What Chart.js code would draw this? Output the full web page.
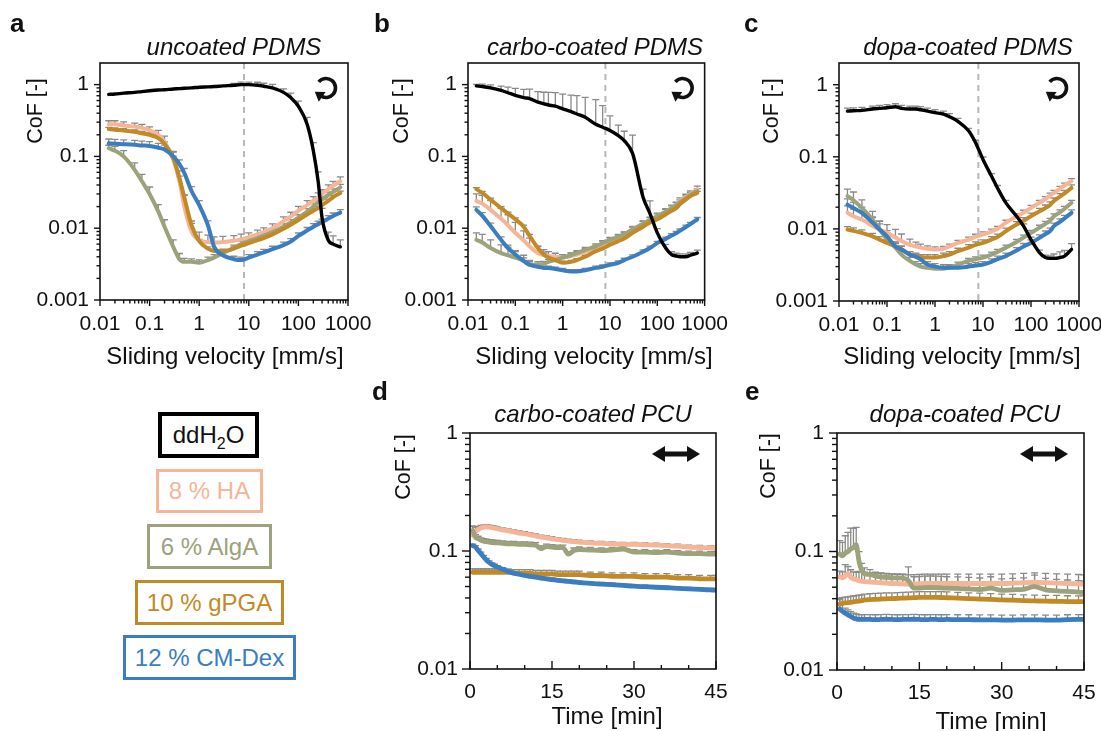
<!DOCTYPE html>
<html><head><meta charset="utf-8">
<script src="https://cdn.jsdelivr.net/npm/chart.js@4.4.0/dist/chart.umd.min.js"></script>
<style>
html,body{margin:0;padding:0;background:#fff;width:1101px;height:731px;overflow:hidden;position:relative;font-family:'Liberation Sans',Arial,sans-serif;color:#111;}
canvas{position:absolute;}
.t{position:absolute;white-space:nowrap;transform:translate(-50%,-50%);line-height:1;}
.ttl{font-style:italic;font-size:24px;}
.ax{font-size:24px;}
.yl{font-size:21.5px;transform:translate(-50%,-50%) rotate(-90deg);}
.let{position:absolute;font-weight:bold;font-size:26px;line-height:1;}
.lg{position:absolute;box-sizing:border-box;display:flex;align-items:center;justify-content:center;font-size:24px;line-height:1;}
.lg .sb{font-size:16px;position:relative;top:6px;}
</style></head><body>
<canvas id="ca"></canvas><canvas id="cb"></canvas><canvas id="cc"></canvas><canvas id="cd"></canvas><canvas id="ce"></canvas>

<div class="let" style="left:10px;top:10px">a</div>
<div class="let" style="left:374px;top:10px">b</div>
<div class="let" style="left:744px;top:10px">c</div>
<div class="let" style="left:372px;top:378px">d</div>
<div class="let" style="left:745px;top:378px">e</div>

<div class="t ttl" style="left:234px;top:47px">uncoated PDMS</div>
<div class="t ttl" style="left:595px;top:47px">carbo-coated PDMS</div>
<div class="t ttl" style="left:968px;top:47px">dopa-coated PDMS</div>
<div class="t ttl" style="left:593px;top:414px">carbo-coated PCU</div>
<div class="t ttl" style="left:965px;top:414px">dopa-coated PCU</div>

<div class="t yl" style="left:36px;top:111px">CoF [-]</div>
<div class="t yl" style="left:402px;top:111px">CoF [-]</div>
<div class="t yl" style="left:772px;top:111px">CoF [-]</div>
<div class="t yl" style="left:404px;top:467px">CoF [-]</div>
<div class="t yl" style="left:769px;top:466px">CoF [-]</div>

<div class="t ax" style="left:225px;top:356px">Sliding velocity [mm/s]</div>
<div class="t ax" style="left:594px;top:356px">Sliding velocity [mm/s]</div>
<div class="t ax" style="left:962px;top:356px">Sliding velocity [mm/s]</div>
<div class="t ax" style="left:607px;top:716px">Time [min]</div>
<div class="t ax" style="left:991px;top:721px">Time [min]</div>

<div class="lg" style="left:158px;top:412px;width:101px;height:46px;border:4px solid #000;color:#111"><span>ddH<span class="sb">2</span>O</span></div>
<div class="lg" style="left:156px;top:469px;width:107px;height:44px;border:3px solid #F5B596;color:#F5B596">8 % HA</div>
<div class="lg" style="left:147px;top:524px;width:125px;height:45px;border:3px solid #9CA27A;color:#9CA27A">6 % AlgA</div>
<div class="lg" style="left:135px;top:580px;width:149px;height:45px;border:3px solid #C28A24;color:#C28A24">10 % gPGA</div>
<div class="lg" style="left:123px;top:635px;width:173px;height:45px;border:3px solid #3A7DC0;color:#3A7DC0">12 % CM-Dex</div>

<script>
// ---------- data ----------
const V = [0.015,0.02,0.03,0.05,0.07,0.1,0.15,0.2,0.3,0.4,0.5,0.7,1,1.5,2,3,5,7,10,15,20,30,50,70,100,150,200,250,300,400,500,700];
const VEL_TICKS = [0.01,0.1,1,10,100,1000];
const COF_TICKS_PDMS = [0.001,0.01,0.1,1];
const COF_TICKS_PCU = [0.01,0.1,1];
const TIME_TICKS = [0,15,30,45];
const V_REF = 8;

// panel a: uncoated PDMS
const a_ddH2O = [0.73,0.74,0.76,0.78,0.8,0.82,0.84,0.85,0.87,0.88,0.89,0.9,0.92,0.93,0.94,0.96,0.98,1.0,1.0,0.98,0.95,0.9,0.78,0.66,0.5,0.28,0.12,0.045,0.014,0.0068,0.006,0.0055];
const a_HA = [0.28,0.28,0.27,0.26,0.25,0.23,0.2,0.16,0.09,0.045,0.02,0.009,0.0068,0.0064,0.0063,0.0064,0.0067,0.007,0.0075,0.0082,0.0088,0.01,0.0125,0.0145,0.0175,0.021,0.024,0.027,0.03,0.035,0.039,0.045];
const a_AlgA = [0.13,0.12,0.1,0.065,0.045,0.03,0.017,0.0105,0.0055,0.0037,0.0034,0.0034,0.0033,0.0036,0.0039,0.0045,0.0053,0.006,0.0066,0.0073,0.0079,0.0088,0.0105,0.012,0.014,0.017,0.02,0.023,0.025,0.029,0.032,0.037];
const a_gPGA = [0.24,0.235,0.23,0.22,0.21,0.2,0.18,0.15,0.095,0.05,0.027,0.011,0.0066,0.0052,0.0048,0.0048,0.0052,0.0057,0.0062,0.0068,0.0073,0.0082,0.0098,0.0112,0.013,0.0155,0.0175,0.019,0.021,0.024,0.027,0.031];
const a_CMDex = [0.152,0.15,0.148,0.145,0.142,0.14,0.132,0.125,0.1,0.078,0.059,0.033,0.021,0.011,0.0055,0.0042,0.0037,0.0036,0.0039,0.0043,0.0046,0.0051,0.0058,0.0065,0.0078,0.0093,0.0105,0.0114,0.0122,0.0136,0.0148,0.0165];
// relative upper error (fraction of mean)
const a_ddH2O_err = [0,0,0,0,0,0,0,0,0,0,0,0,0,0,0,0,0.06,0.08,0.08,0.1,0.1,0.12,0.12,0.15,0.18,0.25,0.3,0.35,0.35,0.3,0.3,0.25];
const a_HA_err = [0.12,0.12,0.12,0.12,0.12,0.12,0.15,0.2,0.3,0.4,0.45,0.4,0.3,0.25,0.2,0.2,0.18,0.18,0.15,0.15,0.15,0.15,0.15,0.15,0.15,0.15,0.15,0.15,0.15,0.15,0.15,0.15];
const a_AlgA_err = [0.1,0.15,0.2,0.25,0.25,0.25,0.25,0.25,0.25,0.2,0.12,0.1,0.1,0.1,0.1,0.1,0.1,0.1,0.1,0.1,0.1,0.1,0.1,0.1,0.1,0.1,0.1,0.1,0.1,0.1,0.1,0.1];
const a_gPGA_err = [0.06,0.06,0.06,0.06,0.06,0.06,0.06,0.06,0.06,0.06,0.06,0.06,0.06,0.06,0.06,0.06,0.06,0.06,0.06,0.06,0.06,0.06,0.06,0.06,0.06,0.06,0.06,0.06,0.06,0.06,0.06,0.06];
const a_CMDex_err = [0.15,0.15,0.15,0.15,0.15,0.15,0.15,0.15,0.15,0.15,0.15,0.15,0.15,0.15,0.15,0.12,0.1,0.1,0.1,0.1,0.1,0.1,0.1,0.1,0.1,0.1,0.1,0.1,0.1,0.1,0.1,0.1];

// panel b: carbo-coated PDMS
const b_ddH2O = [0.96,0.94,0.9,0.83,0.77,0.71,0.66,0.64,0.57,0.54,0.52,0.5,0.46,0.42,0.39,0.35,0.28,0.255,0.23,0.195,0.166,0.11,0.027,0.016,0.0086,0.0053,0.0043,0.0041,0.004,0.004,0.0042,0.0045];
const b_HA = [0.024,0.022,0.018,0.0135,0.011,0.0086,0.0068,0.0056,0.0045,0.0042,0.0041,0.004,0.0039,0.0041,0.0043,0.0047,0.0053,0.006,0.0066,0.0073,0.008,0.0096,0.0115,0.013,0.0147,0.017,0.019,0.021,0.024,0.027,0.03,0.035];
const b_AlgA = [0.0069,0.0063,0.0053,0.0045,0.0042,0.0039,0.0035,0.0031,0.0031,0.0032,0.0034,0.0036,0.0039,0.0042,0.0045,0.005,0.0056,0.0062,0.0069,0.0076,0.0082,0.0096,0.0115,0.013,0.0147,0.017,0.019,0.021,0.023,0.026,0.029,0.033];
const b_gPGA = [0.035,0.031,0.025,0.019,0.016,0.0133,0.0105,0.0078,0.0053,0.0043,0.0039,0.0036,0.0033,0.0034,0.0036,0.004,0.0048,0.0052,0.0059,0.0066,0.0072,0.0086,0.0105,0.012,0.0133,0.0155,0.0175,0.019,0.0215,0.025,0.028,0.031];
const b_CMDex = [0.018,0.015,0.0107,0.0069,0.0053,0.0043,0.0035,0.0031,0.0029,0.0028,0.0028,0.0027,0.0026,0.0025,0.0025,0.0026,0.0028,0.0029,0.0031,0.0033,0.0036,0.004,0.0047,0.0053,0.0062,0.0071,0.0079,0.0085,0.0092,0.0104,0.0114,0.0133];
const b_ddH2O_err = [0.05,0.08,0.1,0.15,0.2,0.25,0.3,0.35,0.4,0.45,0.5,0.55,0.6,0.7,0.8,0.9,1.2,1.0,0.6,0.4,0.35,0.8,0.3,0.5,0.15,0.12,0.1,0.1,0.1,0.1,0.1,0.1];
const b_HA_err = [0.25,0.3,0.35,0.4,0.4,0.4,0.35,0.3,0.25,0.2,0.15,0.12,0.1,0.1,0.1,0.1,0.1,0.1,0.1,0.1,0.1,0.1,0.1,0.1,0.1,0.1,0.1,0.1,0.1,0.1,0.1,0.1];
const b_AlgA_err = [0.25,0.3,0.3,0.3,0.3,0.25,0.2,0.15,0.1,0.08,0.08,0.08,0.08,0.08,0.08,0.08,0.08,0.08,0.08,0.08,0.08,0.08,0.08,0.08,0.08,0.08,0.08,0.08,0.08,0.08,0.08,0.08];
const b_gPGA_err = [0.05,0.05,0.05,0.05,0.05,0.05,0.05,0.05,0.05,0.05,0.05,0.05,0.05,0.05,0.05,0.05,0.05,0.05,0.05,0.05,0.05,0.05,0.05,0.05,0.05,0.05,0.05,0.05,0.05,0.05,0.05,0.05];
const b_CMDex_err = [0.1,0.1,0.1,0.1,0.1,0.1,0.1,0.1,0.06,0.06,0.06,0.06,0.06,0.06,0.06,0.06,0.06,0.06,0.06,0.06,0.06,0.06,0.06,0.06,0.06,0.06,0.06,0.06,0.06,0.06,0.06,0.06];

// panel c: dopa-coated PDMS
const c_ddH2O = [0.43,0.435,0.44,0.46,0.47,0.48,0.495,0.47,0.46,0.46,0.45,0.43,0.41,0.39,0.36,0.31,0.23,0.157,0.092,0.054,0.037,0.023,0.015,0.0109,0.0071,0.0047,0.004,0.0039,0.0039,0.004,0.0042,0.0052];
const c_HA = [0.0167,0.015,0.0135,0.011,0.0098,0.0088,0.0076,0.0068,0.006,0.0057,0.0055,0.0053,0.0052,0.0053,0.0057,0.0064,0.0071,0.0078,0.0084,0.0092,0.01,0.0122,0.0148,0.0168,0.0196,0.023,0.026,0.029,0.0316,0.036,0.04,0.046];
const c_AlgA = [0.0285,0.025,0.0195,0.0135,0.0099,0.0071,0.0055,0.0044,0.0036,0.0032,0.003,0.0029,0.0028,0.0028,0.0029,0.0032,0.0036,0.0038,0.004,0.0044,0.0048,0.0055,0.0066,0.0076,0.0088,0.0104,0.0118,0.013,0.015,0.017,0.019,0.023];
const c_gPGA = [0.0098,0.0094,0.0088,0.0079,0.0071,0.0064,0.0057,0.0052,0.0044,0.0042,0.004,0.004,0.004,0.0042,0.0044,0.0049,0.0055,0.006,0.0064,0.0071,0.0077,0.0093,0.0115,0.013,0.015,0.0175,0.0195,0.0215,0.0244,0.028,0.031,0.037];
const c_CMDex = [0.0217,0.0195,0.0167,0.0122,0.0098,0.0079,0.0057,0.0052,0.0044,0.0041,0.0038,0.0032,0.003,0.0029,0.0029,0.0029,0.003,0.0031,0.0032,0.0035,0.0038,0.0042,0.005,0.0057,0.0064,0.0075,0.0085,0.0093,0.0109,0.0125,0.014,0.0167];
const c_ddH2O_err = [0.1,0.1,0.1,0.1,0.1,0.1,0.1,0.1,0.1,0.1,0.1,0.1,0.1,0.1,0.1,0.1,0.08,0.08,0.08,0.08,0.08,0.08,0.08,0.08,0.08,0.08,0.08,0.08,0.15,0.2,0.2,0.2];
const c_HA_err = [0.25,0.25,0.3,0.3,0.3,0.3,0.3,0.25,0.2,0.15,0.12,0.1,0.08,0.08,0.08,0.08,0.08,0.08,0.08,0.08,0.08,0.08,0.08,0.08,0.08,0.08,0.08,0.08,0.08,0.08,0.08,0.08];
const c_AlgA_err = [0.25,0.3,0.3,0.3,0.3,0.25,0.2,0.15,0.12,0.1,0.1,0.1,0.08,0.08,0.08,0.08,0.08,0.08,0.08,0.08,0.08,0.08,0.08,0.08,0.08,0.08,0.08,0.08,0.08,0.08,0.08,0.08];
const c_gPGA_err = [0.1,0.1,0.1,0.1,0.1,0.1,0.1,0.1,0.1,0.1,0.1,0.1,0.1,0.1,0.1,0.1,0.1,0.1,0.1,0.1,0.1,0.1,0.1,0.1,0.1,0.1,0.1,0.1,0.1,0.1,0.1,0.1];
const c_CMDex_err = [0.2,0.2,0.2,0.2,0.2,0.2,0.15,0.12,0.1,0.1,0.1,0.1,0.1,0.1,0.1,0.1,0.1,0.1,0.1,0.1,0.1,0.1,0.1,0.1,0.1,0.1,0.1,0.1,0.1,0.1,0.1,0.1];

// panels d, e: time series
const T = [0.5,1,1.5,2,2.5,3,3.5,4,4.5,5,6,7,8,9,10,11,12,13,14,15,16,17,18,19,20,22,24,26,28,30,32,34,36,38,40,42,44,45];
const d_HA = [0.136,0.145,0.152,0.157,0.159,0.16,0.159,0.158,0.156,0.154,0.151,0.148,0.145,0.142,0.14,0.137,0.134,0.131,0.129,0.127,0.125,0.123,0.121,0.12,0.119,0.117,0.116,0.115,0.114,0.114,0.113,0.112,0.111,0.11,0.108,0.107,0.106,0.105];
const d_AlgA = [0.149,0.131,0.127,0.123,0.121,0.12,0.119,0.118,0.117,0.117,0.116,0.115,0.115,0.114,0.114,0.113,0.112,0.105,0.109,0.108,0.107,0.107,0.094,0.101,0.103,0.102,0.101,0.102,0.104,0.098,0.098,0.097,0.098,0.096,0.095,0.095,0.094,0.094];
const d_gPGA = [0.066,0.066,0.066,0.066,0.066,0.066,0.066,0.066,0.066,0.066,0.066,0.066,0.065,0.065,0.065,0.065,0.064,0.064,0.064,0.064,0.063,0.063,0.063,0.063,0.063,0.062,0.062,0.061,0.061,0.061,0.06,0.06,0.06,0.059,0.059,0.058,0.058,0.058];
const d_CMDex = [0.111,0.108,0.101,0.095,0.089,0.084,0.08,0.077,0.075,0.073,0.07,0.067,0.065,0.0635,0.062,0.061,0.06,0.059,0.058,0.0573,0.0565,0.0558,0.0552,0.0546,0.054,0.0532,0.0525,0.0518,0.0511,0.0503,0.0498,0.0493,0.0488,0.0483,0.0477,0.0472,0.0468,0.0466];
const d_HA_err = [0.2,0.1,0.06,0.05,0.04,0.04,0.04,0.04,0.04,0.04,0.04,0.04,0.04,0.04,0.04,0.04,0.04,0.04,0.04,0.04,0.04,0.04,0.04,0.04,0.04,0.04,0.04,0.04,0.04,0.04,0.04,0.04,0.04,0.04,0.04,0.04,0.04,0.04];
const d_AlgA_err = [0.08,0.05,0.05,0.05,0.05,0.05,0.05,0.05,0.05,0.05,0.05,0.05,0.05,0.05,0.05,0.05,0.05,0.05,0.05,0.05,0.05,0.05,0.05,0.05,0.05,0.05,0.05,0.05,0.05,0.05,0.05,0.05,0.05,0.05,0.05,0.05,0.05,0.05];
const d_gPGA_err = [0.07,0.07,0.07,0.07,0.07,0.07,0.07,0.07,0.07,0.07,0.07,0.07,0.07,0.07,0.07,0.07,0.07,0.07,0.07,0.07,0.07,0.07,0.07,0.07,0.07,0.07,0.07,0.07,0.07,0.07,0.07,0.07,0.07,0.07,0.07,0.07,0.07,0.07];
const d_CMDex_err = [0.03,0.03,0.03,0.03,0.03,0.03,0.03,0.03,0.03,0.03,0.03,0.03,0.03,0.03,0.03,0.03,0.03,0.03,0.03,0.03,0.03,0.03,0.03,0.03,0.03,0.03,0.03,0.03,0.03,0.03,0.03,0.03,0.03,0.03,0.03,0.03,0.03,0.03];

const e_HA = [0.061,0.06,0.062,0.065,0.061,0.0585,0.058,0.0566,0.056,0.0558,0.0553,0.0548,0.0545,0.054,0.0537,0.0535,0.0533,0.053,0.0532,0.0535,0.0537,0.0537,0.0537,0.0537,0.0537,0.0537,0.0537,0.0537,0.0537,0.0537,0.054,0.0545,0.055,0.0545,0.054,0.0537,0.0533,0.053];
const e_AlgA = [0.095,0.092,0.097,0.1,0.105,0.108,0.114,0.083,0.069,0.065,0.064,0.062,0.061,0.0605,0.06,0.0598,0.0596,0.057,0.049,0.0492,0.0495,0.0497,0.0495,0.0493,0.049,0.0488,0.0483,0.0478,0.049,0.047,0.0475,0.048,0.0505,0.0475,0.0466,0.046,0.0455,0.045];
const e_gPGA = [0.036,0.0365,0.0368,0.037,0.0373,0.0376,0.0379,0.0382,0.0385,0.039,0.0393,0.0395,0.0397,0.0399,0.04,0.0402,0.0404,0.0406,0.0408,0.041,0.041,0.041,0.041,0.0409,0.0407,0.0404,0.04,0.0397,0.0394,0.039,0.0388,0.0385,0.0383,0.0381,0.038,0.0378,0.0377,0.0377];
const e_CMDex = [0.0327,0.0312,0.0302,0.0292,0.0283,0.0274,0.027,0.0267,0.0267,0.0267,0.0267,0.0266,0.0267,0.0268,0.0267,0.0266,0.0267,0.0267,0.0268,0.0267,0.0266,0.0267,0.0267,0.0266,0.0267,0.0266,0.0266,0.0265,0.0265,0.0264,0.0264,0.0265,0.0265,0.0264,0.0264,0.0266,0.0267,0.0267];
const e_HA_err = [0.12,0.12,0.25,0.15,0.15,0.15,0.15,0.2,0.2,0.2,0.2,0.2,0.2,0.2,0.2,0.2,0.2,0.2,0.2,0.2,0.2,0.2,0.2,0.2,0.2,0.2,0.2,0.2,0.2,0.2,0.2,0.2,0.2,0.2,0.2,0.2,0.2,0.2];
const e_AlgA_err = [0.3,0.3,0.4,0.45,0.5,0.45,0.4,0.2,0.15,0.12,0.1,0.08,0.08,0.08,0.08,0.08,0.08,0.3,0.25,0.25,0.25,0.25,0.25,0.25,0.25,0.25,0.25,0.25,0.25,0.25,0.25,0.25,0.25,0.25,0.25,0.25,0.25,0.25];
const e_gPGA_err = [0.12,0.12,0.12,0.12,0.12,0.12,0.12,0.12,0.12,0.12,0.12,0.12,0.12,0.12,0.12,0.12,0.12,0.12,0.12,0.12,0.12,0.12,0.12,0.12,0.12,0.12,0.12,0.12,0.12,0.12,0.12,0.12,0.12,0.12,0.12,0.12,0.12,0.12];
const e_CMDex_err = [0.2,0.15,0.1,0.1,0.1,0.1,0.1,0.1,0.1,0.1,0.1,0.1,0.1,0.1,0.1,0.1,0.1,0.1,0.1,0.1,0.1,0.1,0.1,0.1,0.1,0.1,0.1,0.1,0.1,0.1,0.1,0.1,0.1,0.1,0.1,0.1,0.1,0.1];

// ---------- styling ----------
const COL = {ddH2O:'#000000', HA:'#F5B596', AlgA:'#9CA27A', gPGA:'#C28A24', CMDex:'#3A7DC0'};
const ERR_COL = '#8a8a8a';
Chart.defaults.font.family = "'Liberation Sans', Arial, sans-serif";
Chart.defaults.font.size = 21;
Chart.defaults.color = '#111';

function series(label, color, xs, ys, err, width) {
  return {label, data: xs.map((x, i) => ({x, y: ys[i]})), errRel: err,
    borderColor: color, backgroundColor: color, borderWidth: width, pointRadius: 0,
    cubicInterpolationMode: 'monotone', fill: false, borderCapStyle: 'round', borderJoinStyle: 'round'};
}
function logMinors(min, max) {
  const out = [];
  for (let e = Math.floor(Math.log10(min)); e <= Math.ceil(Math.log10(max)); e++)
    for (let k = 2; k <= 9; k++) { const v = k * Math.pow(10, e); if (v > min * 1.0001 && v < max * 0.9999) out.push(v); }
  return out;
}
function linMinors(min, max, step, majors) {
  const out = [];
  for (let v = min; v <= max; v += step) if (!majors.includes(v)) out.push(v);
  return out;
}

const decoPlugin = {
  id: 'deco',
  beforeDatasetsDraw(chart, args, o) {
    const {ctx, chartArea: ca, scales: {x, y}} = chart;
    ctx.save();
    ctx.beginPath(); ctx.rect(ca.left, ca.top, ca.width, ca.height); ctx.clip();
    if (o.vline) {
      const px = x.getPixelForValue(o.vline);
      ctx.strokeStyle = '#b8b8b8'; ctx.lineWidth = 2; ctx.setLineDash([6, 5]);
      ctx.beginPath(); ctx.moveTo(px, ca.top); ctx.lineTo(px, ca.bottom); ctx.stroke();
      ctx.setLineDash([]);
    }
    ctx.strokeStyle = ERR_COL; ctx.lineWidth = 1.3;
    chart.data.datasets.forEach(ds => {
      if (!ds.errRel) return;
      ds.data.forEach((p, j) => {
        const e = ds.errRel[j]; if (!e) return;
        const px = x.getPixelForValue(p.x), y0 = y.getPixelForValue(p.y), y1 = y.getPixelForValue(p.y * (1 + e));
        ctx.beginPath(); ctx.moveTo(px, y0); ctx.lineTo(px, y1);
        ctx.moveTo(px - 3.5, y1); ctx.lineTo(px + 3.5, y1); ctx.stroke();
      });
    });
    ctx.restore();
  },
  afterDraw(chart, args, o) {
    const {ctx, chartArea: ca, scales: {x, y}} = chart;
    ctx.save();
    ctx.strokeStyle = '#111'; ctx.lineWidth = 1.6;
    ctx.strokeRect(ca.left, ca.top, ca.width, ca.height);
    const tick = (scale, vals, len, dir, axis) => vals.forEach(v => {
      const p = scale.getPixelForValue(v);
      ctx.beginPath();
      if (axis === 'x') { ctx.moveTo(p, ca.bottom); ctx.lineTo(p, dir === 'out' ? ca.bottom + len : ca.bottom - len); }
      else { ctx.moveTo(ca.left, p); ctx.lineTo(dir === 'out' ? ca.left - len : ca.left + len, p); }
      ctx.stroke();
    });
    ctx.lineWidth = 1.4;
    tick(x, o.xMajor, o.xMajLen, o.xDir, 'x'); tick(x, o.xMinor, o.xMinLen, o.xDir, 'x');
    tick(y, o.yMajor, o.yMajLen, 'out', 'y'); tick(y, o.yMinor, o.yMinLen, 'out', 'y');
    ctx.fillStyle = '#111'; ctx.strokeStyle = '#111';
    if (o.icon === 'rotate') {
      const cx = ca.right - 22, cy = ca.top + 25, r = 9.5;
      const a0 = -140 * Math.PI / 180, a1 = 125 * Math.PI / 180;
      ctx.lineWidth = 3.6; ctx.lineCap = 'butt';
      ctx.beginPath(); ctx.arc(cx, cy, r, a0, a1); ctx.stroke();
      const ex = cx + r * Math.cos(a1), ey = cy + r * Math.sin(a1);
      const dx = -Math.sin(a1), dy = Math.cos(a1);
      const nx = -dy, ny = dx;
      ctx.beginPath();
      ctx.moveTo(ex + dx * 7, ey + dy * 7);
      ctx.lineTo(ex + nx * 6 - dx * 2, ey + ny * 6 - dy * 2);
      ctx.lineTo(ex - nx * 6 - dx * 2, ey - ny * 6 - dy * 2);
      ctx.closePath(); ctx.fill();
    } else if (o.icon === 'double') {
      const cx = ca.right - 40, cy = ca.top + 21, half = 24, head = 13, hh = 8, sh = 2.6;
      ctx.beginPath();
      ctx.moveTo(cx - half, cy);
      ctx.lineTo(cx - half + head, cy - hh);
      ctx.lineTo(cx - half + head, cy - sh);
      ctx.lineTo(cx + half - head, cy - sh);
      ctx.lineTo(cx + half - head, cy - hh);
      ctx.lineTo(cx + half, cy);
      ctx.lineTo(cx + half - head, cy + hh);
      ctx.lineTo(cx + half - head, cy + sh);
      ctx.lineTo(cx - half + head, cy + sh);
      ctx.lineTo(cx - half + head, cy + hh);
      ctx.closePath(); ctx.fill();
    }
    ctx.restore();
  }
};

function logAxis(min, max, ticks, pad) {
  return {type: 'logarithmic', min, max,
    grid: {display: false, drawTicks: false}, border: {display: false},
    afterBuildTicks: s => { s.ticks = ticks.map(v => ({value: v})); },
    ticks: {padding: pad, autoSkip: false, maxRotation: 0, minRotation: 0, callback: v => String(v)}};
}
function linAxis(min, max, ticks, pad) {
  return {type: 'linear', min, max,
    grid: {display: false, drawTicks: false}, border: {display: false},
    afterBuildTicks: s => { s.ticks = ticks.map(v => ({value: v})); },
    ticks: {padding: pad, autoSkip: false, maxRotation: 0, minRotation: 0, callback: v => String(v)}};
}

function makeChart(id, box, area, xCfg, yCfg, datasets, deco) {
  const cv = document.getElementById(id);
  cv.width = box.w; cv.height = box.h;
  cv.style.left = box.l + 'px'; cv.style.top = box.t + 'px';
  cv.style.width = box.w + 'px'; cv.style.height = box.h + 'px';
  return new Chart(cv, {
    type: 'line',
    data: {datasets},
    options: {
      responsive: false, animation: false, devicePixelRatio: 1,
      layout: {padding: {left: 0, top: area.t - box.t, right: box.l + box.w - area.r, bottom: 0}},
      plugins: {legend: {display: false}, tooltip: {enabled: false}, deco},
      scales: {
        x: Object.assign({}, xCfg, {afterFit: s => { s.height = box.t + box.h - area.b; }}),
        y: Object.assign({}, yCfg, {afterFit: s => { s.width = area.l - box.l; }})
      }
    },
    plugins: [decoPlugin]
  });
}

function pdmsSets(h2o, ha, alg, pga, dex, h2oE, haE, algE, pgaE, dexE) {
  return [
    series('ddH2O', COL.ddH2O, V, h2o, h2oE, 3.4),
    series('12 % CM-Dex', COL.CMDex, V, dex, dexE, 4),
    series('10 % gPGA', COL.gPGA, V, pga, pgaE, 4),
    series('6 % AlgA', COL.AlgA, V, alg, algE, 4),
    series('8 % HA', COL.HA, V, ha, haE, 4)
  ];
}
function pcuSets(ha, alg, pga, dex, haE, algE, pgaE, dexE) {
  return [
    series('12 % CM-Dex', COL.CMDex, T, dex, dexE, 4.8),
    series('10 % gPGA', COL.gPGA, T, pga, pgaE, 4.8),
    series('6 % AlgA', COL.AlgA, T, alg, algE, 4.8),
    series('8 % HA', COL.HA, T, ha, haE, 4.8)
  ];
}

const pdmsDeco = {vline: V_REF, icon: 'rotate',
  xMajor: VEL_TICKS, xMinor: logMinors(0.01, 1000), xMajLen: 6, xMinLen: 3.5, xDir: 'out',
  yMajor: COF_TICKS_PDMS, yMinor: logMinors(0.001, 2), yMajLen: 6, yMinLen: 3.5};
const pcuDeco = {icon: 'double',
  xMajor: TIME_TICKS, xMinor: linMinors(0, 45, 5, TIME_TICKS), xMajLen: 8, xMinLen: 4, xDir: 'in',
  yMajor: COF_TICKS_PCU, yMinor: logMinors(0.01, 1), yMajLen: 8, yMinLen: 5};

makeChart('ca', {l: 0, t: 0, w: 385, h: 350}, {l: 100, t: 63, r: 348, b: 300},
  logAxis(0.01, 1000, VEL_TICKS, 12), logAxis(0.001, 2, COF_TICKS_PDMS, 11),
  pdmsSets(a_ddH2O, a_HA, a_AlgA, a_gPGA, a_CMDex, a_ddH2O_err, a_HA_err, a_AlgA_err, a_gPGA_err, a_CMDex_err), pdmsDeco);
makeChart('cb', {l: 385, t: 0, w: 355, h: 350}, {l: 468, t: 63, r: 714, b: 300},
  logAxis(0.01, 1000, VEL_TICKS, 12), logAxis(0.001, 2, COF_TICKS_PDMS, 11),
  pdmsSets(b_ddH2O, b_HA, b_AlgA, b_gPGA, b_CMDex, b_ddH2O_err, b_HA_err, b_AlgA_err, b_gPGA_err, b_CMDex_err), pdmsDeco);
makeChart('cc', {l: 750, t: 0, w: 365, h: 350}, {l: 839, t: 63, r: 1079, b: 301},
  logAxis(0.01, 1000, VEL_TICKS, 12), logAxis(0.001, 2, COF_TICKS_PDMS, 11),
  pdmsSets(c_ddH2O, c_HA, c_AlgA, c_gPGA, c_CMDex, c_ddH2O_err, c_HA_err, c_AlgA_err, c_gPGA_err, c_CMDex_err), pdmsDeco);
makeChart('cd', {l: 385, t: 380, w: 355, h: 351}, {l: 470, t: 433, r: 716, b: 669},
  linAxis(0, 45, TIME_TICKS, 11), logAxis(0.01, 1, COF_TICKS_PCU, 12),
  pcuSets(d_HA, d_AlgA, d_gPGA, d_CMDex, d_HA_err, d_AlgA_err, d_gPGA_err, d_CMDex_err), pcuDeco);
makeChart('ce', {l: 750, t: 380, w: 365, h: 351}, {l: 837, t: 433, r: 1084, b: 670},
  linAxis(0, 45, TIME_TICKS, 11), logAxis(0.01, 1, COF_TICKS_PCU, 13),
  pcuSets(e_HA, e_AlgA, e_gPGA, e_CMDex, e_HA_err, e_AlgA_err, e_gPGA_err, e_CMDex_err), pcuDeco);
</script>
</body></html>
